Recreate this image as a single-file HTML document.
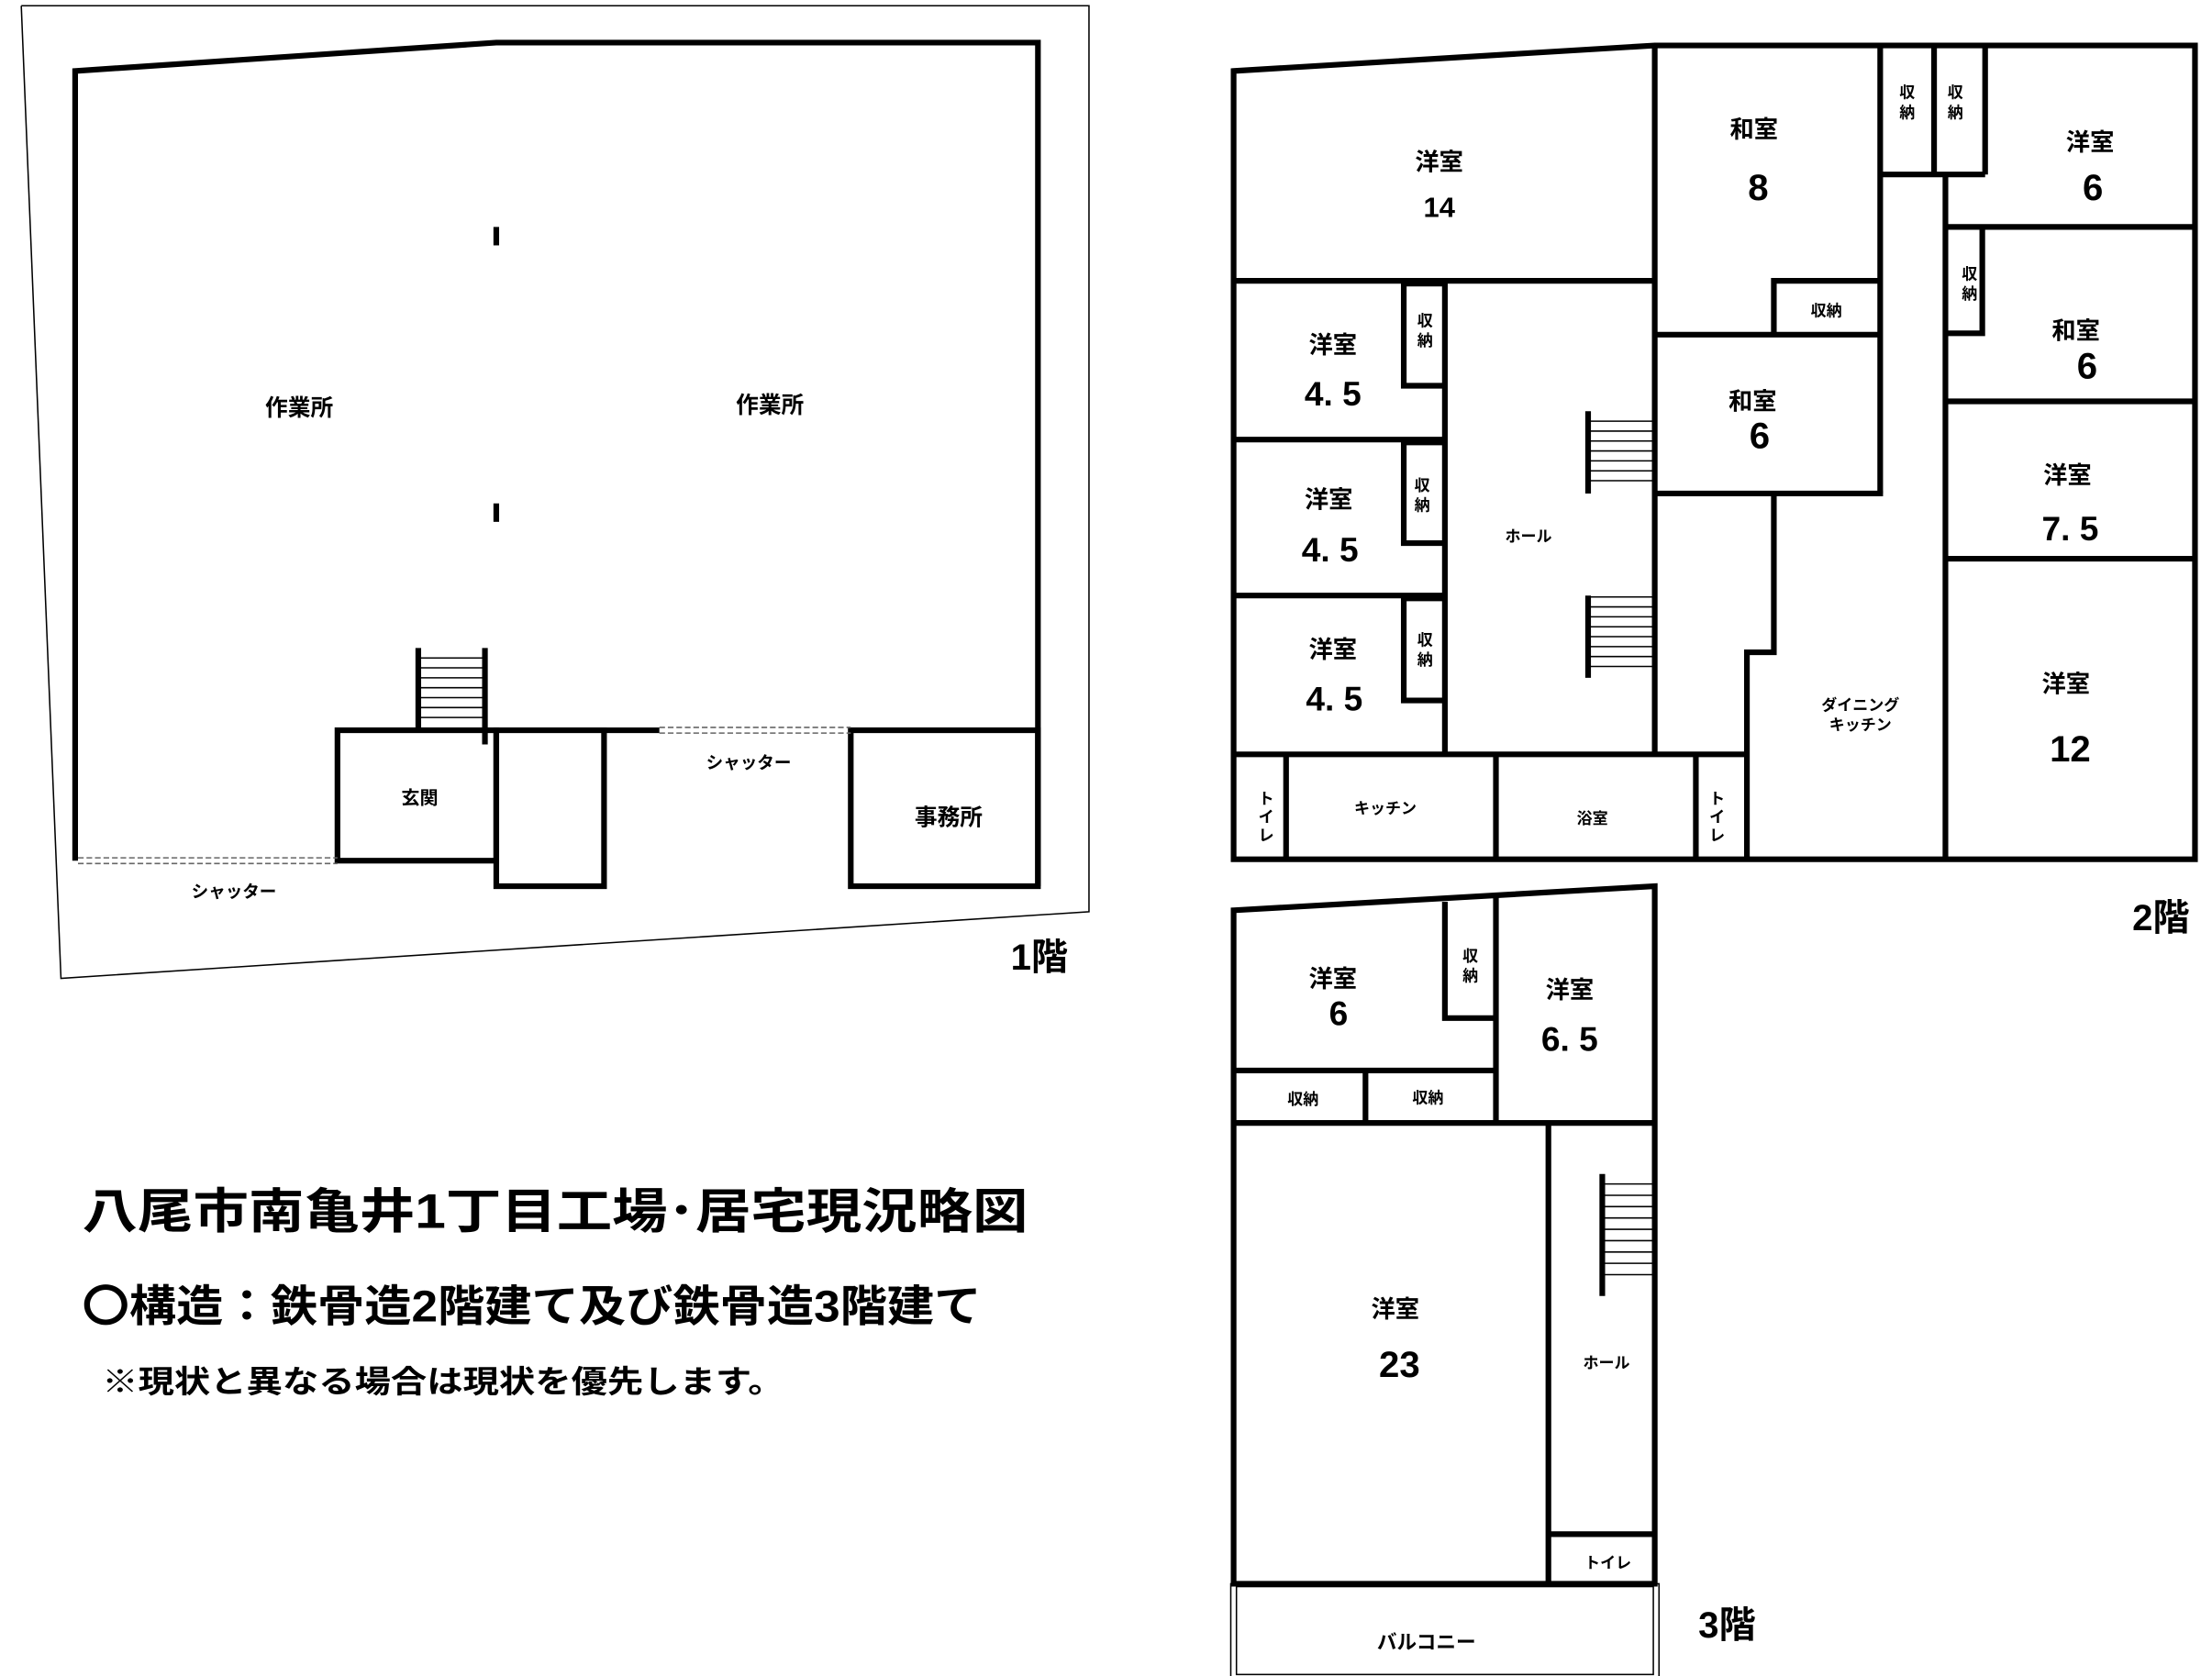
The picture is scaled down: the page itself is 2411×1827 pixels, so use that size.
<!DOCTYPE html>
<html><head><meta charset="utf-8"><style>
html,body{margin:0;padding:0;background:#fff}
svg{display:block}
text{font-family:"Liberation Sans","Noto Sans CJK JP",sans-serif;font-weight:bold;fill:#000;text-anchor:middle}
</style></head><body>
<svg width="2411" height="1827" viewBox="0 0 1560 1182" xmlns="http://www.w3.org/2000/svg">
<g fill="none" stroke="#000">
<polyline points="15,4 768,4 768,643 43,690 15,4" stroke-width="1"/>
<g stroke-width="4">
<polyline points="53,607 53,50 350,30 732,30 732,625"/>
<rect x="238" y="515" width="112" height="92"/>
<rect x="350" y="515" width="76" height="110"/>
<line x1="426" y1="515" x2="465" y2="515"/>
<rect x="600" y="515" width="132" height="110"/>
<line x1="295" y1="457" x2="295" y2="515"/>
<line x1="342" y1="457" x2="342" y2="525"/>
<line x1="350" y1="160" x2="350" y2="173"/>
<line x1="350" y1="355" x2="350" y2="368"/>
</g>
<g stroke-width="1" stroke-dasharray="4,2" stroke="#666">
<line x1="55" y1="605" x2="238" y2="605"/><line x1="55" y1="609" x2="238" y2="609"/>
<line x1="465" y1="513" x2="600" y2="513"/><line x1="465" y1="517" x2="600" y2="517"/>
</g>
<g stroke-width="1">
<line x1="295" y1="464" x2="342" y2="464"/><line x1="295" y1="471" x2="342" y2="471"/><line x1="295" y1="478" x2="342" y2="478"/><line x1="295" y1="485" x2="342" y2="485"/><line x1="295" y1="492" x2="342" y2="492"/><line x1="295" y1="499" x2="342" y2="499"/><line x1="295" y1="506" x2="342" y2="506"/>
</g>
<g stroke-width="4">
<polygon points="870,50 1167,32 1548,32 1548,606 870,606"/>
<line x1="1167" y1="32" x2="1167" y2="348"/>
<line x1="870" y1="198" x2="1167" y2="198"/>
<line x1="1019" y1="198" x2="1019" y2="532"/>
<line x1="870" y1="310" x2="1019" y2="310"/>
<line x1="870" y1="420" x2="1019" y2="420"/>
<polyline points="1019,200 990,200 990,272 1019,272"/>
<polyline points="1019,312 990,312 990,383 1019,383"/>
<polyline points="1019,422 990,422 990,494 1019,494"/>
<line x1="870" y1="532" x2="1232" y2="532"/>
<line x1="907" y1="532" x2="907" y2="606"/>
<line x1="1055" y1="532" x2="1055" y2="606"/>
<line x1="1196" y1="532" x2="1196" y2="606"/>
<line x1="1167" y1="348" x2="1167" y2="532"/>
<line x1="1167" y1="236" x2="1326" y2="236"/>
<line x1="1167" y1="348" x2="1328" y2="348"/>
<line x1="1326" y1="32" x2="1326" y2="348"/>
<polyline points="1326,198 1251,198 1251,236"/>
<line x1="1326" y1="123" x2="1400" y2="123"/>
<line x1="1364" y1="32" x2="1364" y2="123"/>
<line x1="1400" y1="32" x2="1400" y2="123"/>
<polyline points="1251,348 1251,460 1232,460 1232,606"/>
<line x1="1372" y1="123" x2="1372" y2="606"/>
<line x1="1372" y1="160" x2="1548" y2="160"/>
<polyline points="1372,235 1398,235 1398,162"/>
<line x1="1372" y1="283" x2="1548" y2="283"/>
<line x1="1372" y1="394" x2="1548" y2="394"/>
<line x1="1120" y1="290" x2="1120" y2="348"/>
<line x1="1120" y1="420" x2="1120" y2="478"/>
</g>
<g stroke-width="1">
<line x1="1120" y1="297" x2="1167" y2="297"/><line x1="1120" y1="304" x2="1167" y2="304"/><line x1="1120" y1="311" x2="1167" y2="311"/><line x1="1120" y1="318" x2="1167" y2="318"/><line x1="1120" y1="325" x2="1167" y2="325"/><line x1="1120" y1="332" x2="1167" y2="332"/><line x1="1120" y1="339" x2="1167" y2="339"/>
<line x1="1120" y1="421" x2="1167" y2="421"/><line x1="1120" y1="428" x2="1167" y2="428"/><line x1="1120" y1="435" x2="1167" y2="435"/><line x1="1120" y1="442" x2="1167" y2="442"/><line x1="1120" y1="449" x2="1167" y2="449"/><line x1="1120" y1="456" x2="1167" y2="456"/><line x1="1120" y1="463" x2="1167" y2="463"/><line x1="1120" y1="470" x2="1167" y2="470"/>
</g>
<g stroke-width="4">
<polygon points="870,642 1167,625 1167,1117 870,1117"/>
<polyline points="1019,636 1019,718 1055,718"/>
<line x1="1055" y1="632" x2="1055" y2="792"/>
<line x1="870" y1="755" x2="1055" y2="755"/>
<line x1="963" y1="755" x2="963" y2="792"/>
<line x1="870" y1="792" x2="1167" y2="792"/>
<line x1="1092" y1="792" x2="1092" y2="1117"/>
<line x1="1092" y1="1082" x2="1167" y2="1082"/>
<line x1="1130" y1="828" x2="1130" y2="914"/>
</g>
<g stroke-width="1">
<line x1="1130" y1="835" x2="1167" y2="835"/><line x1="1130" y1="843" x2="1167" y2="843"/><line x1="1130" y1="851" x2="1167" y2="851"/><line x1="1130" y1="859" x2="1167" y2="859"/><line x1="1130" y1="867" x2="1167" y2="867"/><line x1="1130" y1="875" x2="1167" y2="875"/><line x1="1130" y1="883" x2="1167" y2="883"/><line x1="1130" y1="891" x2="1167" y2="891"/><line x1="1130" y1="899" x2="1167" y2="899"/>
<rect x="868" y="1117" width="302" height="68"/>
<rect x="872" y="1119" width="294" height="62"/>
</g>
</g>
<g font-size="16">
<text x="211" y="293">作業所</text><text x="543" y="291">作業所</text>
<text x="296" y="567" font-size="13">玄関</text>
<text x="669" y="582">事務所</text>
<text x="528" y="542" font-size="12">シャッター</text>
<text x="165" y="633" font-size="12">シャッター</text>
</g>
<text x="733" y="684" font-size="26">1階</text>
<g font-size="17">
<text x="1015" y="120">洋室</text><text x="1015" y="153" font-weight="normal" font-size="20">14</text>
<text x="1237" y="97">和室</text><text x="1240" y="141" font-weight="normal" font-size="26">8</text>
<text x="1474" y="106">洋室</text><text x="1476" y="141" font-weight="normal" font-size="26">6</text>
<text x="1464" y="239">和室</text><text x="1472" y="267" font-weight="normal" font-size="26">6</text>
<text x="1236" y="289">和室</text><text x="1241" y="316" font-weight="normal" font-size="26">6</text>
<text x="1458" y="341">洋室</text><text x="1460" y="381" font-weight="normal" font-size="24">7. 5</text>
<text x="1457" y="488">洋室</text><text x="1460" y="537" font-weight="normal" font-size="26">12</text>
<text x="940" y="249">洋室</text><text x="940" y="286" font-weight="normal" font-size="24">4. 5</text>
<text x="937" y="358">洋室</text><text x="938" y="396" font-weight="normal" font-size="24">4. 5</text>
<text x="940" y="464">洋室</text><text x="941" y="501" font-weight="normal" font-size="24">4. 5</text>
</g>
<g font-size="11">
<text x="1078" y="382">ホール</text>
<text x="1312" y="501">ダイニング</text><text x="1312" y="515">キッチン</text>
<text x="977" y="574">キッチン</text>
<text x="1123" y="581">浴室</text>
<text x="1288" y="223">収納</text>
<text x="1345" y="69">収</text><text x="1345" y="83">納</text>
<text x="1379" y="69">収</text><text x="1379" y="83">納</text>
<text x="1389" y="197">収</text><text x="1389" y="211">納</text>
<text x="1005" y="230">収</text><text x="1005" y="244">納</text>
<text x="1003" y="346">収</text><text x="1003" y="360">納</text>
<text x="1005" y="455">収</text><text x="1005" y="469">納</text>
<text x="893" y="567">ト</text><text x="893" y="580">イ</text><text x="893" y="593">レ</text>
<text x="1211" y="567">ト</text><text x="1211" y="580">イ</text><text x="1211" y="593">レ</text>
</g>
<text x="1524" y="656" font-size="26">2階</text>
<g font-size="17">
<text x="940" y="696">洋室</text><text x="944" y="723" font-weight="normal" font-size="24">6</text>
<text x="1107" y="704">洋室</text><text x="1107" y="741" font-weight="normal" font-size="24">6. 5</text>
<text x="984" y="929">洋室</text><text x="987" y="971" font-weight="normal" font-size="26">23</text>
</g>
<g font-size="11">
<text x="1037" y="678">収</text><text x="1037" y="692">納</text>
<text x="919" y="779">収納</text><text x="1007" y="778">収納</text>
<text x="1133" y="965">ホール</text>
<text x="1134" y="1106">トイレ</text>
<text x="1006" y="1163" font-size="14">バルコニー</text>
</g>
<text x="1218" y="1155" font-size="26">3階</text>
<text x="58" y="866" font-size="34" style="text-anchor:start" textLength="667" lengthAdjust="spacingAndGlyphs">八尾市南亀井1丁目工場･居宅現況略図</text>
<text x="58" y="932" font-size="31" style="text-anchor:start" textLength="634" lengthAdjust="spacingAndGlyphs">〇構造：鉄骨造2階建て及び鉄骨造3階建て</text>
<text x="72" y="982" font-size="22" style="text-anchor:start" textLength="481" lengthAdjust="spacingAndGlyphs">※現状と異なる場合は現状を優先します。</text>
</svg>
</body></html>
